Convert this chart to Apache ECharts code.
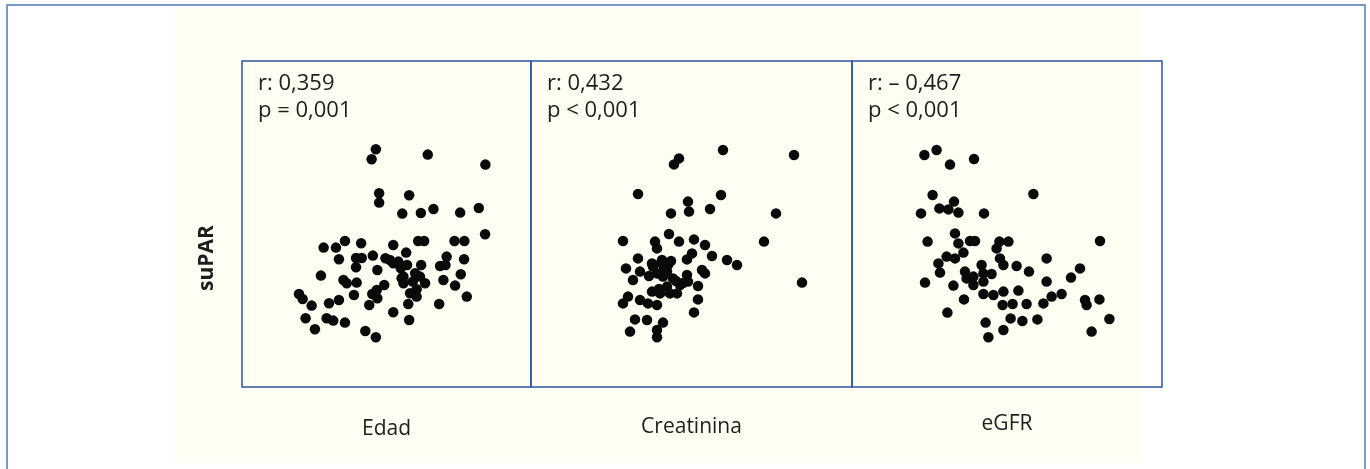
<!DOCTYPE html>
<html>
<head>
<meta charset="utf-8">
<script src="https://cdn.jsdelivr.net/npm/echarts@6/dist/echarts.min.js"></script>
<style>
  html, body { margin: 0; padding: 0; background: #ffffff; }
  #chart { width: 1370px; height: 469px; }
</style>
</head>
<body>
<div id="chart"></div>
<script>
// panel titles, stats and axis label
const panelNames = ['Edad', 'Creatinina', 'eGFR'];
const rTexts = ['r: 0,359', 'r: 0,432', 'r: \u2013 0,467'];
const pTexts = ['p = 0,001', 'p < 0,001', 'p < 0,001'];
const yName = 'suPAR';

// Edad (años) vs suPAR
const edadPoints = [
  [44.6, 11.89], [43.2, 11.39], [61.9, 11.62], [81.1, 11.12], [45.7, 9.69],
  [45.7, 9.22], [55.7, 9.59], [53.4, 8.67], [59.6, 8.70], [63.8, 8.90],
  [72.7, 8.72], [78.9, 8.95], [81.0, 7.64], [27.2, 6.97], [31.3, 6.97],
  [34.3, 7.30], [39.7, 7.19], [50.4, 7.10], [58.7, 7.30], [60.7, 7.30],
  [70.8, 7.30], [74.1, 7.30], [32.3, 6.39], [38.0, 6.45], [39.9, 6.45],
  [43.6, 6.57], [47.8, 6.44], [54.7, 6.72], [68.2, 6.52], [74.0, 6.39],
  [26.3, 5.57], [38.0, 5.99], [45.1, 5.85], [50.4, 6.19], [52.9, 5.94],
  [55.0, 6.10], [59.7, 6.10], [66.0, 6.05], [67.8, 6.10], [72.9, 5.64],
  [33.8, 5.35], [38.2, 5.22], [47.4, 5.10], [53.2, 5.44], [53.8, 5.19],
  [56.9, 5.27], [59.3, 5.52], [61.0, 5.19], [67.1, 5.35], [71.0, 5.07],
  [19.0, 4.65], [20.2, 4.40], [23.2, 4.07], [29.0, 4.19], [32.3, 4.35],
  [37.3, 4.60], [43.4, 4.65], [45.1, 4.44], [42.4, 4.10], [56.0, 4.69],
  [58.2, 4.89], [55.4, 4.15], [65.7, 4.15], [74.9, 4.52], [50.4, 3.74],
  [55.7, 3.35], [21.2, 3.44], [24.3, 2.89], [28.2, 3.44], [30.4, 3.32],
  [34.3, 3.22], [41.1, 2.80], [44.6, 2.49], [52.1, 6.27], [53.8, 5.52],
  [57.7, 5.69], [44.9, 4.85], [58.2, 4.52], [49.3, 6.35], [34.9, 5.19]
];

// Creatinina (mg/dL) vs suPAR
const creatPoints = [
  [1.92, 11.85], [2.63, 11.60], [1.48, 11.43], [1.43, 11.13], [1.07, 9.65],
  [1.90, 9.60], [1.57, 9.27], [1.58, 8.77], [1.40, 8.68], [1.79, 8.90],
  [2.45, 8.68], [0.92, 7.30], [1.24, 7.27], [1.38, 7.65], [1.48, 7.27],
  [1.63, 7.38], [1.74, 7.10], [2.33, 7.27], [1.26, 6.93], [1.07, 6.43],
  [1.21, 6.18], [1.31, 6.35], [1.37, 6.10], [1.61, 6.68], [1.56, 6.38],
  [1.81, 6.55], [1.96, 6.35], [2.06, 6.10], [0.95, 5.93], [1.02, 5.35],
  [1.09, 5.77], [1.26, 5.68], [1.36, 5.77], [1.42, 5.43], [1.56, 5.60],
  [1.71, 5.85], [1.74, 5.68], [1.57, 5.27], [1.67, 5.05], [2.71, 5.22],
  [1.36, 5.02], [1.46, 4.68], [1.29, 4.68], [1.21, 4.77], [0.97, 4.52],
  [0.92, 4.18], [1.09, 4.35], [1.17, 4.18], [1.26, 4.10], [1.67, 4.38],
  [1.63, 3.73], [1.04, 3.38], [1.16, 3.35], [1.32, 3.22], [0.99, 2.77],
  [1.26, 2.85], [1.26, 2.49], [1.22, 6.02], [1.32, 5.52], [1.49, 5.10],
  [1.39, 4.68], [1.30, 6.20], [1.33, 5.90], [1.45, 5.30], [1.52, 5.20],
  [1.18, 5.55], [1.28, 4.90], [1.40, 6.30]
];

// eGFR (mL/min/1,73 m2) vs suPAR
const egfrPoints = [
  [36.2, 11.60], [42.3, 11.85], [49.0, 11.12], [61.0, 11.40], [90.7, 9.65],
  [40.3, 9.60], [34.5, 8.68], [43.7, 8.93], [48.2, 8.88], [51.0, 9.27],
  [53.2, 8.72], [66.0, 8.68], [37.8, 7.27], [51.5, 7.68], [53.2, 7.18],
  [59.0, 7.30], [61.5, 7.30], [73.7, 7.27], [78.2, 7.27], [72.3, 6.93],
  [124.0, 7.30], [55.7, 6.72], [47.3, 6.52], [51.5, 6.43], [43.2, 6.18],
  [74.0, 6.43], [75.7, 6.10], [82.3, 6.05], [97.3, 6.43], [88.5, 5.77],
  [114.0, 5.93], [44.0, 5.72], [56.5, 5.77], [64.8, 6.10], [65.7, 5.68],
  [69.8, 5.65], [60.7, 5.52], [36.5, 5.22], [50.7, 5.07], [60.7, 5.10],
  [65.7, 5.27], [75.7, 4.77], [83.2, 4.82], [97.3, 5.27], [109.5, 5.47],
  [104.8, 4.65], [99.8, 4.52], [65.7, 4.65], [70.7, 4.60], [56.0, 4.38],
  [116.5, 4.35], [123.7, 4.38], [117.3, 4.10], [75.3, 4.10], [80.3, 4.15],
  [87.3, 4.15], [95.7, 4.18], [47.7, 3.72], [79.3, 3.43], [85.2, 3.30],
  [92.7, 3.38], [128.7, 3.40], [66.8, 3.22], [75.7, 2.85], [68.2, 2.49],
  [119.8, 2.77], [57.3, 5.43]
];

const chart = echarts.init(document.getElementById('chart'));

const fontFamily = "'Open Sans', 'Noto Sans', sans-serif";
const panelBorder = '#2c55a2';
const textColor = '#1e1e1e';

// layout of the three panels (px)
const panels = [
  { left: 242, width: 289, xMax: 96.3 },
  { left: 531, width: 321, xMax: 3.21 },
  { left: 852, width: 310, xMax: 155 },
];
const panelTop = 61;
const panelHeight = 326;
const labelY = [429, 427, 424];

const grids = panels.map((p) => ({
  left: p.left,
  top: panelTop,
  width: p.width,
  height: panelHeight,
  show: true,
  backgroundColor: 'transparent',
  borderColor: panelBorder,
  borderWidth: 1.5,
}));

const xAxes = panels.map((p, i) => ({
  type: 'value',
  gridIndex: i,
  min: 0,
  max: p.xMax,
  show: false,
}));

const yAxes = panels.map((p, i) => ({
  type: 'value',
  gridIndex: i,
  min: 0,
  max: 16.3,
  show: false,
}));

const allPoints = [edadPoints, creatPoints, egfrPoints];
const series = allPoints.map((pts, i) => ({
  type: 'scatter',
  xAxisIndex: i,
  yAxisIndex: i,
  data: pts,
  symbol: 'circle',
  symbolSize: 10.5,
  itemStyle: { color: '#0a0a0a', opacity: 1 },
  silent: true,
}));

const graphics = [
  // marco exterior
  {
    type: 'rect',
    shape: { x: 7, y: 5, width: 1358, height: 480 },
    style: { fill: 'none', stroke: '#4f79c0', lineWidth: 1.5 },
    z: -10,
  },
  // fondo crema
  {
    type: 'rect',
    shape: { x: 175, y: 8, width: 964, height: 455 },
    style: { fill: '#fefef3' },
    z: -20,
  },
  {
    type: 'text',
    x: 207,
    y: 258,
    rotation: Math.PI / 2,
    style: {
      text: yName,
      font: 'bold 21px ' + fontFamily,
      fill: textColor,
      align: 'center',
      verticalAlign: 'middle',
    },
  },
];

panels.forEach((p, i) => {
  graphics.push({
    type: 'text',
    x: p.left + 16,
    y: 84,
    style: {
      text: rTexts[i],
      font: '22px ' + fontFamily,
      fill: textColor,
      align: 'left',
      verticalAlign: 'middle',
    },
  });
  graphics.push({
    type: 'text',
    x: p.left + 16,
    y: 111,
    style: {
      text: pTexts[i],
      font: '22px ' + fontFamily,
      fill: textColor,
      align: 'left',
      verticalAlign: 'middle',
    },
  });
  graphics.push({
    type: 'text',
    x: p.left + p.width / 2,
    y: labelY[i],
    style: {
      text: panelNames[i],
      font: '21px ' + fontFamily,
      fill: textColor,
      align: 'center',
      verticalAlign: 'middle',
    },
  });
});

chart.setOption({
  backgroundColor: '#ffffff',
  animation: false,
  textStyle: { fontFamily },
  grid: grids,
  xAxis: xAxes,
  yAxis: yAxes,
  series,
  graphic: graphics,
});
</script>
</body>
</html>
